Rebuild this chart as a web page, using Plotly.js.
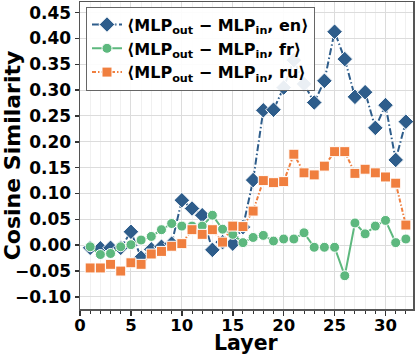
<!DOCTYPE html>
<html>
<head>
<meta charset="utf-8">
<script src="https://cdn.plot.ly/plotly-3.0.1.min.js"></script>
<style>html,body{margin:0;padding:0;background:#fff;}#chart{width:416px;height:354px;}</style>
</head>
<body>
<div id="chart"></div>
<script>
const layers = Array.from({length: 32}, (_, i) => i + 1);
const seriesNames = [
  "⟨MLP<sub>out</sub> − MLP<sub>in</sub>, en⟩",
  "⟨MLP<sub>out</sub> − MLP<sub>in</sub>, fr⟩",
  "⟨MLP<sub>out</sub> − MLP<sub>in</sub>, ru⟩"
];
const xTitle = 'Layer';
const yTitle = 'Cosine Similarity';
const enValues = [-0.005, -0.006, -0.005, -0.005, 0.026, -0.024, -0.008, -0.003, 0.003, 0.087, 0.071, 0.058, -0.009, 0.006, 0.003, 0.035,
  0.126, 0.261, 0.262, 0.305, 0.358, 0.312, 0.276, 0.318, 0.413, 0.360, 0.287, 0.296, 0.227, 0.271, 0.165, 0.239];
const frValues = [-0.003, -0.018, -0.016, -0.003, 0.001, 0.010, 0.017, 0.030, 0.042, 0.037, 0.037, 0.037, 0.058, 0.031, 0.021, 0.005,
  0.015, 0.019, 0.008, 0.012, 0.012, 0.024, -0.004, -0.004, -0.004, -0.059, 0.043, 0.022, 0.037, 0.048, 0.005, 0.012];
const ruValues = [-0.044, -0.044, -0.037, -0.050, -0.034, -0.037, -0.017, -0.012, -0.002, 0.003, 0.030, 0.021, 0.030, 0.006, 0.037, 0.036,
  0.066, 0.125, 0.121, 0.123, 0.176, 0.140, 0.136, 0.153, 0.181, 0.181, 0.139, 0.147, 0.140, 0.132, 0.120, 0.039];

const FONT = "DejaVu Sans, Liberation Sans, sans-serif";
const traces = [
  {x: layers, y: enValues, name: seriesNames[0], type: 'scatter', mode: 'lines+markers',
   line: {color: '#2e5d8b', width: 2, dash: '7px,2.5px,1.5px,2.5px'},
   marker: {symbol: 'diamond', size: 12, color: '#2e5d8b', line: {color: '#ffffff', width: 1}}},
  {x: layers, y: frValues, name: seriesNames[1], type: 'scatter', mode: 'lines+markers',
   line: {color: '#5db87e', width: 2},
   marker: {symbol: 'circle', size: 10, color: '#5db87e', line: {color: '#ffffff', width: 1}}},
  {x: layers, y: ruValues, name: seriesNames[2], type: 'scatter', mode: 'lines+markers',
   line: {color: '#f07f3f', width: 2, dash: '4px,2px,1.5px,2px'},
   marker: {symbol: 'square', size: 10, color: '#f07f3f', line: {color: '#ffffff', width: 1}}}
];

const layout = {
  width: 416, height: 354,
  margin: {l: 80, r: 3, t: 2, b: 45},
  paper_bgcolor: '#ffffff', plot_bgcolor: '#ffffff',
  font: {family: FONT, color: '#000', size: 13},
  showlegend: true,
  legend: {x: 0.018, y: 0.985, xanchor: 'left', yanchor: 'top',
    bgcolor: 'rgba(255,255,255,0.9)', bordercolor: '#666', borderwidth: 1,
    font: {family: FONT, size: 16, weight: 'bold', color: '#000'}},
  xaxis: {
    range: [0, 32.7], tick0: 0, dtick: 5, tickmode: 'linear',
    showgrid: true, gridcolor: '#dcdcdc', gridwidth: 1, zeroline: false,
    showline: true, mirror: true, linecolor: '#555', linewidth: 1.5,
    ticks: 'outside', ticklen: 5, tickwidth: 1.5, tickcolor: '#333',
    ticklabelstandoff: -4,
    tickfont: {family: FONT, size: 16.5, weight: 'bold', color: '#000'},
    minor: {dtick: 1, ticks: 'outside', ticklen: 3, tickwidth: 1, tickcolor: '#333', showgrid: true, gridcolor: '#f0f0f0', gridwidth: 1}
  },
  yaxis: {
    range: [-0.1234, 0.4705], tick0: 0, dtick: 0.05, tickmode: 'linear', tickformat: '.2f',
    showgrid: true, gridcolor: '#dcdcdc', gridwidth: 1, zeroline: false,
    showline: true, mirror: true, linecolor: '#555', linewidth: 1.5,
    ticks: 'outside', ticklen: 4, tickwidth: 1.5, tickcolor: '#333',
    tickfont: {family: FONT, size: 17, weight: 'bold', color: '#000'},
    title: {text: yTitle, font: {family: FONT, size: 22, weight: 'bold', color: '#000'}, standoff: 6}
  },
  annotations: [{
    text: xTitle, xref: 'paper', yref: 'paper', x: 0.5, y: -0.11,
    xanchor: 'center', yanchor: 'middle', showarrow: false,
    font: {family: FONT, size: 20.5, weight: 'bold', color: '#000'}
  }]
};
Plotly.newPlot('chart', traces, layout, {displayModeBar: false, staticPlot: true});
</script>
</body>
</html>
